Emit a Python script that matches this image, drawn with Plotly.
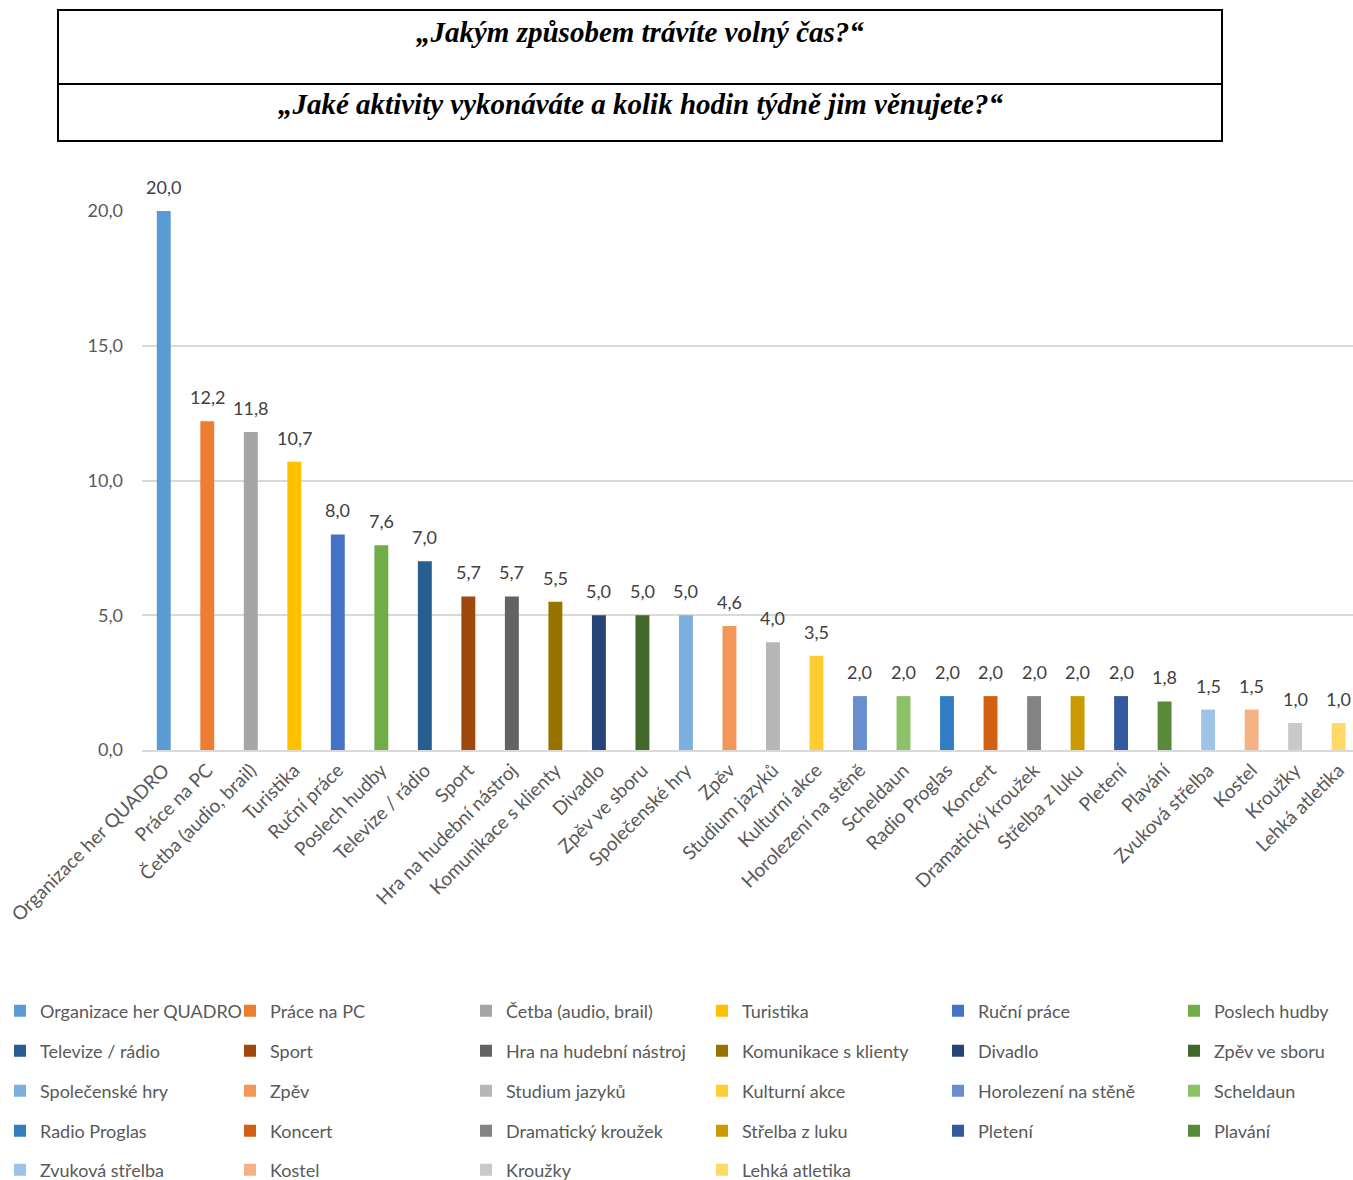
import plotly.graph_objects as go

categories = [
    "Organizace her QUADRO", "Práce na PC", "Četba (audio, brail)", "Turistika",
    "Ruční práce", "Poslech hudby", "Televize / rádio", "Sport",
    "Hra na hudební nástroj", "Komunikace s klienty", "Divadlo", "Zpěv ve sboru",
    "Společenské hry", "Zpěv", "Studium jazyků", "Kulturní akce",
    "Horolezení na stěně", "Scheldaun", "Radio Proglas", "Koncert",
    "Dramatický kroužek", "Střelba z luku", "Pletení", "Plavání",
    "Zvuková střelba", "Kostel", "Kroužky", "Lehká atletika",
]
hours = [20.0, 12.2, 11.8, 10.7, 8.0, 7.6, 7.0, 5.7, 5.7, 5.5, 5.0, 5.0, 5.0, 4.6,
         4.0, 3.5, 2.0, 2.0, 2.0, 2.0, 2.0, 2.0, 2.0, 1.8, 1.5, 1.5, 1.0, 1.0]
colors = [
    "#5B9BD5", "#ED7D31", "#A5A5A5", "#FFC000", "#4472C4", "#70AD47", "#255E91",
    "#9E480E", "#636363", "#997300", "#264478", "#43682B", "#7CAFDD", "#F1975A",
    "#B7B7B7", "#FFCD33", "#698ED0", "#8CC168", "#327DC2", "#D26012", "#848484",
    "#CC9A00", "#335AA1", "#5A8A39", "#9DC3E6", "#F4B183", "#C9C9C9", "#FFD966",
]
yticks = [0, 5, 10, 15, 20]
title1 = "„Jakým způsobem trávíte volný čas?“"
title2 = "„Jaké aktivity vykonáváte a kolik hodin týdně jim věnujete?“"

W, H = 1353, 1180
L, R, T, B = 142, 0, 211, 430
PW, PH = W - L - R, H - T - B

def px_x(x):
    return (x - L) / PW

def px_y(y):
    return (H - B - y) / PH

FONT = "Lato, 'Open Sans', sans-serif"
GRAY = "#595959"

ncol = 6
col_step = 236
row_centers = [1011, 1051, 1091, 1131, 1170]
# legend groups per row: column 0 | columns 1-4 | column 5
group_x = [0, 230, 230 + 4 * col_step]

def legend_key(i):
    row, col = divmod(i, ncol)
    g = 0 if col == 0 else (1 if col <= 4 else 2)
    idx = row * 3 + g
    return "legend" if idx == 0 else f"legend{idx + 1}"

fig = go.Figure()
for i, (c, v, col) in enumerate(zip(categories, hours, colors)):
    fig.add_trace(go.Bar(
        x=[c], y=[v], name=c, marker_color=col, marker_line_width=0,
        width=0.32, cliponaxis=False, showlegend=True,
        legend=legend_key(i),
    ))

legends = {}
for r, yc in enumerate(row_centers):
    for g in range(3):
        idx = r * 3 + g
        key = "legend" if idx == 0 else f"legend{idx + 1}"
        ld = dict(
            orientation="h", xref="container", yref="container",
            x=group_x[g] / W, xanchor="left", y=1 - yc / H, yanchor="middle",
            itemwidth=30,
            font=dict(family=FONT, size=18, color=GRAY),
            bgcolor="rgba(0,0,0,0)", traceorder="normal",
        )
        if g == 1:
            ld.update(entrywidth=col_step - 45, entrywidthmode="pixels")
        legends[key] = ld

shapes = []
bx0, bx1 = 58, 1222
for (y0, y1) in [(10, 84), (84, 141)]:
    shapes.append(dict(type="rect", xref="paper", yref="paper",
                       x0=px_x(bx0), x1=px_x(bx1), y0=px_y(y1), y1=px_y(y0),
                       line=dict(color="black", width=2), fillcolor="rgba(0,0,0,0)"))

annotations = []
for txt, yc in [(title1, 32), (title2, 104)]:
    annotations.append(dict(
        text=txt, xref="paper", yref="paper", x=px_x(640), y=px_y(yc),
        xanchor="center", yanchor="middle", showarrow=False,
        font=dict(family="'Liberation Serif', 'DejaVu Serif', serif", size=29,
                  color="black", style="italic", weight="bold"),
    ))

# data labels
for c, v in zip(categories, hours):
    annotations.append(dict(
        text=f"{v:.1f}".replace(".", ","), x=c, y=v, xref="x", yref="y",
        xanchor="center", yanchor="bottom", yshift=11, showarrow=False,
        font=dict(family=FONT, size=18, color="#404040"),
    ))

fig.update_layout(
    width=W, height=H, autosize=False,
    margin=dict(l=L, r=R, t=T, b=B, pad=0),
    paper_bgcolor="white", plot_bgcolor="white",
    barmode="overlay", showlegend=True,
    separators=", ",
    font=dict(family=FONT, size=18, color=GRAY),
    shapes=shapes, annotations=annotations,
    **legends,
)
fig.update_xaxes(
    type="category", range=[-0.5, 27.33], tickangle=-45,
    showline=True, linecolor="#D9D9D9", linewidth=1.5,
    showgrid=False, ticks="",
    tickfont=dict(family=FONT, size=19, color=GRAY),
)
fig.update_yaxes(
    range=[0, 20], tickvals=yticks, tickformat=".1f",
    showgrid=True, gridcolor="#D9D9D9", gridwidth=1.5,
    zeroline=False, showline=False, ticks="",
    ticklabelstandoff=18,
    tickfont=dict(family=FONT, size=18, color=GRAY),
)

fig.write_html("out.html", config={"displayModeBar": False},
               post_script="document.body.style.margin='0px';")
